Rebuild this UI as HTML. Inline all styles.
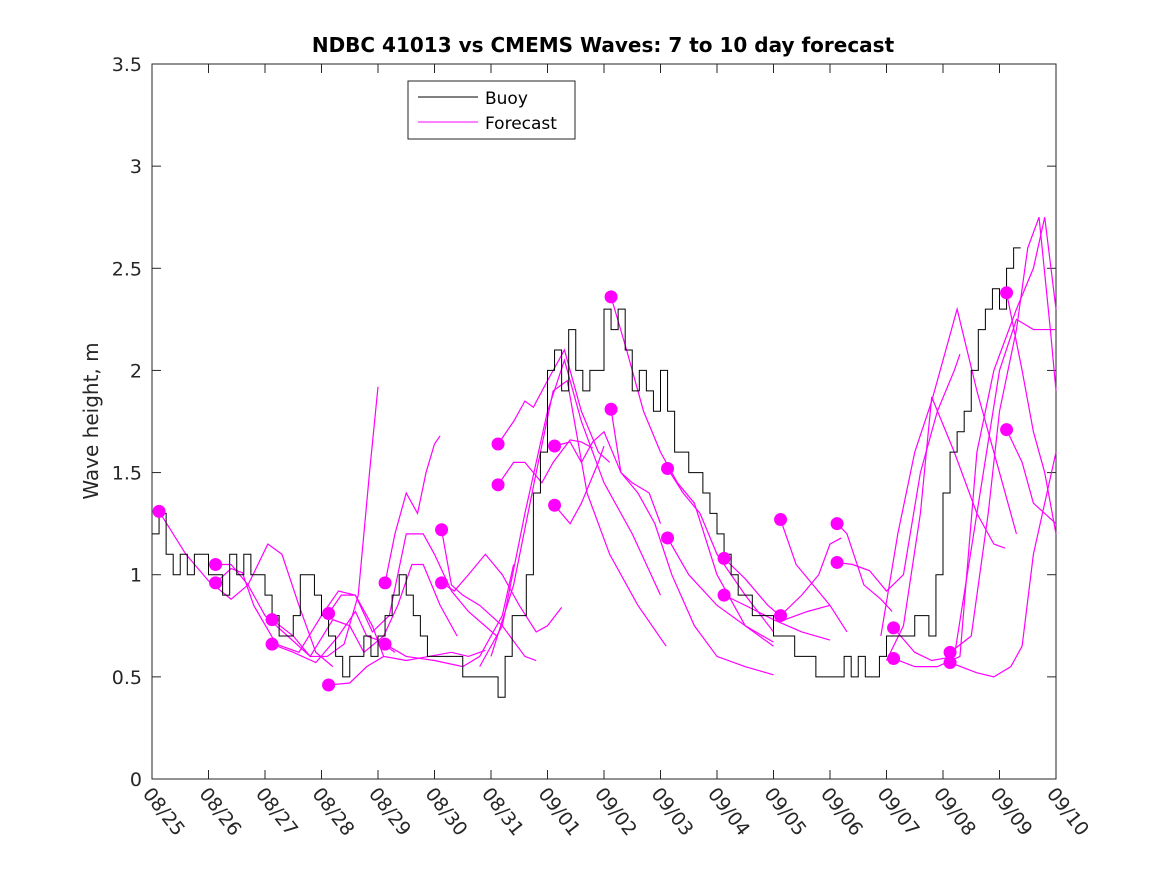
<!DOCTYPE html>
<html><head><meta charset="utf-8"><style>
body{margin:0;background:#fff}
svg text{font-family:"DejaVu Sans","Liberation Sans",sans-serif;fill:#262626}
</style></head><body>
<svg id="chart" width="1167" height="875" viewBox="0 0 1167 875" xmlns="http://www.w3.org/2000/svg">
<rect width="1167" height="875" fill="#fff"/>
<text x="603" y="52" text-anchor="middle" font-size="20" font-weight="bold" style="fill:#000">NDBC 41013 vs CMEMS Waves: 7 to 10 day forecast</text>
<text transform="translate(98,421) rotate(-90)" text-anchor="middle" font-size="20">Wave height, m</text>
<g id="axes"></g>
<g id="plot"></g>
<g>
<rect x="408" y="81" width="167" height="58" fill="#fff" stroke="#262626" stroke-width="1"/>
<g><line x1="418" y1="97" x2="478" y2="97" stroke="#000"/><text x="485" y="104" font-size="17" style="fill:#000">Buoy</text></g>
<g><line x1="418" y1="122" x2="478" y2="122" stroke="#f0f"/><text x="485" y="129" font-size="17" style="fill:#000">Forecast</text></g>
</g>
</svg>
<script>
const xTickLabels=["08/25","08/26","08/27","08/28","08/29","08/30","08/31","09/01","09/02","09/03","09/04","09/05","09/06","09/07","09/08","09/09","09/10"];
const yTicks=[0,0.5,1,1.5,2,2.5,3,3.5];
const buoyStart=0, buoyStep=0.125;
const buoyValues=[1.2,1.3,1.1,1.0,1.1,1.0,1.1,1.1,
1.0,1.0,0.9,1.1,1.0,1.1,1.0,1.0,
0.9,0.8,0.7,0.7,0.8,1.0,1.0,0.9,
0.8,0.7,0.6,0.5,0.6,0.6,0.7,0.6,
0.7,0.8,0.9,1.0,0.9,0.8,0.7,0.6,
0.6,0.6,0.6,0.6,0.5,0.5,0.5,0.5,
0.5,0.4,0.6,0.8,0.8,1.0,1.4,1.6,
2.0,2.1,1.9,2.2,2.0,1.9,2.0,2.0,
2.3,2.2,2.3,2.1,1.9,2.0,1.9,1.8,
2.0,1.8,1.6,1.6,1.5,1.5,1.4,1.3,
1.2,1.1,1.0,0.9,0.9,0.8,0.8,0.8,
0.7,0.7,0.7,0.6,0.6,0.6,0.5,0.5,
0.5,0.5,0.6,0.5,0.6,0.5,0.5,0.6,
0.7,0.7,0.7,0.7,0.8,0.8,0.7,1.0,
1.4,1.6,1.7,1.8,2.0,2.2,2.3,2.4,
2.3,2.5,2.6];
const dotDays=[0.125,1.125,1.125,2.125,2.125,3.125,3.125,4.125,4.125,5.125,5.125,6.125,6.125,7.125,7.125,8.125,8.125,9.125,9.125,10.125,10.125,11.125,11.125,12.125,12.125,13.125,13.125,14.125,14.125,15.125,15.125];
const dotValues=[1.31,1.05,0.96,0.78,0.66,0.81,0.46,0.96,0.66,1.22,0.96,1.64,1.44,1.63,1.34,2.36,1.81,1.52,1.18,1.08,0.90,1.27,0.80,1.25,1.06,0.74,0.59,0.62,0.57,2.38,1.71];
const forecasts=[
[[0.125,1.31],[0.6,1.1],[1.0,0.97],[1.4,0.88],[1.7,0.95],[2.05,1.15],[2.3,1.1],[2.6,0.85],[2.9,0.62],[3.2,0.55]],
[[1.125,1.05],[1.4,1.05],[1.7,0.95],[2.0,0.8],[2.4,0.7],[2.8,0.6],[3.1,0.6],[3.4,0.66],[3.65,0.9],[3.85,1.5],[4.0,1.92]],
[[1.125,0.96],[1.4,1.03],[1.6,1.01],[1.8,0.85],[2.2,0.66],[2.6,0.62],[3.0,0.8],[3.3,0.92],[3.6,0.9],[3.9,0.75],[4.1,0.6]],
[[2.125,0.78],[2.5,0.7],[2.8,0.6],[3.2,0.78],[3.5,0.75],[3.75,0.62],[4.1,0.7],[4.35,0.85],[4.6,1.05],[4.8,1.05],[5.1,0.85],[5.4,0.7]],
[[2.125,0.66],[2.5,0.62],[2.9,0.57],[3.3,0.7],[3.6,0.82],[3.8,0.7],[4.0,0.68],[4.3,0.62]],
[[3.125,0.81],[3.35,0.9],[3.6,0.9],[3.9,0.72],[4.2,0.8],[4.5,1.2],[4.8,1.2],[5.0,1.1],[5.3,0.92],[5.6,0.82],[6.1,0.7]],
[[3.125,0.46],[3.5,0.47],[3.8,0.55],[4.1,0.6],[4.5,0.58],[4.9,0.6],[5.3,0.62],[5.6,0.6],[5.9,0.63]],
[[4.125,0.96],[4.3,1.2],[4.5,1.4],[4.7,1.3],[4.85,1.5],[5.0,1.64],[5.1,1.68]],
[[4.125,0.66],[4.5,0.6],[5.0,0.58],[5.5,0.55],[5.8,0.6],[6.2,0.8],[6.4,1.05]],
[[5.125,1.22],[5.3,0.95],[5.5,0.9],[5.8,0.85],[6.2,0.75],[6.6,0.6],[6.8,0.58]],
[[5.125,0.96],[5.35,0.92],[5.6,1.0],[5.9,1.1],[6.2,1.0],[6.5,0.85],[6.8,0.72],[7.0,0.75],[7.25,0.84]],
[[6.125,1.64],[6.4,1.75],[6.6,1.85],[6.75,1.82],[7.0,1.95],[7.3,2.1],[7.6,1.8],[7.9,1.6],[8.1,1.55]],
[[6.125,1.44],[6.4,1.55],[6.6,1.55],[6.9,1.45],[7.1,1.55],[7.4,1.66],[7.6,1.65],[7.8,1.62]],
[[7.125,1.63],[7.4,1.65],[7.6,1.55],[7.8,1.65],[8.0,1.7],[8.3,1.5],[8.5,1.45],[8.8,1.4],[9.0,1.25]],
[[7.125,1.34],[7.4,1.25],[7.6,1.35],[7.9,1.55],[8.0,1.63]],
[[5.8,0.55],[6.2,0.75],[6.6,1.3],[7.0,1.8],[7.3,2.05],[7.6,1.75],[8.0,1.45],[8.5,1.2],[9.0,0.9]],
[[6.0,0.6],[6.4,0.95],[6.8,1.5],[7.1,1.9],[7.35,1.95],[7.7,1.4],[8.1,1.1],[8.6,0.85],[9.1,0.65]],
[[8.125,2.36],[8.4,2.1],[8.7,1.8],[9.0,1.6],[9.3,1.45],[9.6,1.35],[10,1.0],[10.5,0.75],[11,0.65]],
[[8.125,1.81],[8.3,1.5],[8.6,1.4],[8.9,1.25],[9.2,1.0],[9.6,0.75],[10,0.6],[10.5,0.55],[11,0.51]],
[[9.125,1.52],[9.4,1.4],[9.7,1.3],[10,1.1],[10.5,0.9],[11,0.72]],
[[9.125,1.18],[9.5,1.0],[10,0.85],[10.5,0.75],[11,0.67]],
[[10.125,1.08],[10.5,0.98],[10.9,0.85],[11.2,0.78],[11.6,0.82],[12,0.85]],
[[10.125,0.90],[10.5,0.85],[11,0.78],[11.5,0.72],[12,0.68]],
[[11.125,1.27],[11.4,1.05],[11.7,0.95],[12,0.85],[12.3,0.72]],
[[11.125,0.80],[11.5,0.9],[11.8,1.0],[12.0,1.15],[12.2,1.18]],
[[12.125,1.25],[12.3,1.2],[12.6,0.95],[12.9,0.88],[13.1,0.82]],
[[12.125,1.06],[12.4,1.05],[12.7,1.02],[13.0,0.92],[13.3,1.0],[13.6,1.5],[13.9,1.8],[14.2,2.0],[14.3,2.08]],
[[13.125,0.74],[13.5,0.62],[13.8,0.58],[14.2,0.6],[14.6,1.3],[15.0,2.0],[15.3,2.25],[15.6,2.2],[16,2.2]],
[[13.125,0.59],[13.5,0.55],[13.9,0.55],[14.3,0.6],[14.6,1.6],[14.9,2.0],[15.3,2.3],[15.6,2.5],[15.8,2.75],[16.0,2.3]],
[[14.125,0.62],[14.5,0.7],[14.8,1.3],[15.0,1.8],[15.3,2.2],[15.5,2.6],[15.7,2.75],[15.9,2.2],[16,1.9]],
[[14.125,0.57],[14.6,0.52],[14.9,0.5],[15.2,0.55],[15.4,0.65],[15.6,1.1],[15.8,1.35],[16,1.6]],
[[15.125,2.38],[15.4,2.0],[15.6,1.7],[15.8,1.5],[16,1.2]],
[[15.125,1.71],[15.4,1.55],[15.6,1.35],[15.8,1.3],[16,1.25]],
[[12.9,0.7],[13.2,1.2],[13.5,1.6],[13.8,1.85],[14.25,2.3],[14.6,1.9],[15,1.5],[15.3,1.2]],
[[13.0,0.58],[13.3,0.75],[13.6,1.3],[13.8,1.87],[14.2,1.6],[14.6,1.3],[14.9,1.15],[15.1,1.13]]
];
const L=152,R=1056,T=64,B=779,NS="http://www.w3.org/2000/svg";
const xS=d=>L+(R-L)*d/16;
const yS=v=>B-(B-T)*v/3.5;
function mk(tag,attrs,parent){const e=document.createElementNS(NS,tag);for(const k in attrs)e.setAttribute(k,attrs[k]);parent.appendChild(e);return e;}
const axes=document.getElementById('axes'),plot=document.getElementById('plot');
const frame=mk('rect',{x:L,y:T,width:R-L,height:B-T,fill:'none',stroke:'#262626','stroke-width':1},axes);


xTickLabels.forEach((lab,i)=>{const x=xS(i);
mk('line',{x1:x,y1:B,x2:x,y2:B-9,stroke:'#262626'},axes);
mk('line',{x1:x,y1:T,x2:x,y2:T+9,stroke:'#262626'},axes);
const t=mk('text',{x:0,y:0,'font-size':19,transform:`translate(${x-10},${B+15}) rotate(52)`},axes);
t.textContent=lab;


});
yTicks.forEach(v=>{const y=yS(v);
mk('line',{x1:L,y1:y,x2:L+9,y2:y,stroke:'#262626'},axes);
mk('line',{x1:R,y1:y,x2:R-9,y2:y,stroke:'#262626'},axes);
const t=mk('text',{x:L-10,y:y+7,'font-size':19,'text-anchor':'end'},axes);
t.textContent=String(v);


});
forecasts.forEach(f=>{
const p=mk('polyline',{points:f.map(q=>xS(q[0])+','+yS(q[1])).join(' '),fill:'none',stroke:'#f0f','stroke-width':1.2},plot);


});
let pts=[];buoyValues.forEach((v,i)=>{const x0=xS(buoyStart+i*buoyStep),x1=xS(buoyStart+(i+1)*buoyStep);pts.push(x0+','+yS(v),x1+','+yS(v));});
const bl=mk('polyline',{points:pts.join(' '),fill:'none',stroke:'#000','stroke-width':1},plot);


dotDays.forEach((d,i)=>{
const c=mk('circle',{cx:xS(d),cy:yS(dotValues[i]),r:6.5,fill:'#f0f'},plot);


});
</script>
</body></html>
